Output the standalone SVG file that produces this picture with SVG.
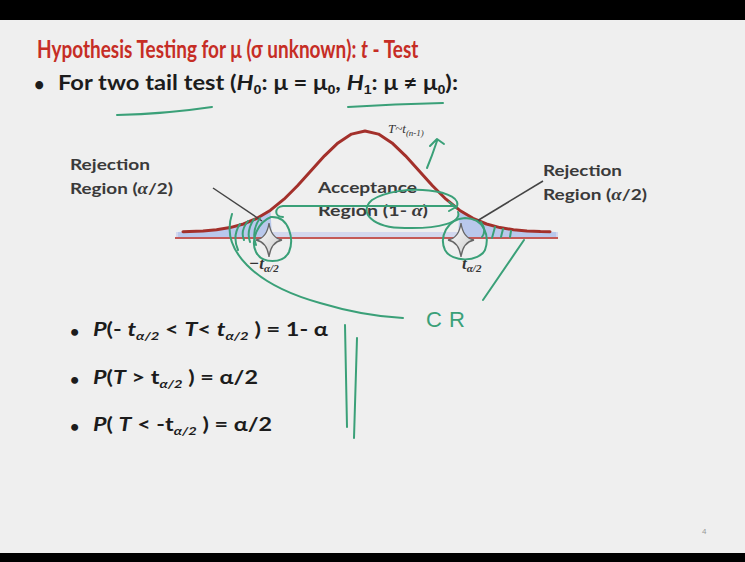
<svg xmlns="http://www.w3.org/2000/svg" width="745" height="562" viewBox="0 0 745 562">
<defs>
<style>
.title{font-family:Lato,"Liberation Sans",sans-serif;font-weight:bold;fill:#c62d25;font-size:25px}
.body{font-family:Lato,"Liberation Sans",sans-serif;font-weight:bold;fill:#1c1c1c}
.dig{font-family:"Liberation Sans",sans-serif}
.lbl{font-family:Lato,"Liberation Sans",sans-serif;font-weight:bold;fill:#3a3a3a;font-size:16px}
.ser{font-family:"Liberation Serif",serif;font-style:italic;fill:#333}
.it{font-style:italic}
.grn{fill:none;stroke:#3aa078;stroke-width:2;stroke-linecap:round;stroke-linejoin:round}
.star{stroke:#666;stroke-width:1.3}
.ptr{stroke:#444;stroke-width:1.5}
</style>
<linearGradient id="sg" x1="0" y1="0" x2="1" y2="1">
<stop offset="0" stop-color="#ffffff"/><stop offset="1" stop-color="#c8c8c8"/>
</linearGradient>
</defs>
<rect width="745" height="562" fill="#efefef"/>
<rect width="745" height="20" fill="#000"/>
<rect y="553" width="745" height="9" fill="#000"/>

<g id="title" transform="translate(37,58) scale(0.76,1)">
<text class="title" x="0" y="0">Hypothesis Testing for μ  (σ  unknown):  <tspan class="it">t</tspan> - Test</text>
</g>

<g id="line2">
<text class="body" x="34" y="91" font-size="18">•</text>
<text class="body" x="58" y="90" font-size="20" textLength="400" lengthAdjust="spacingAndGlyphs">For two tail test (<tspan class="it">H</tspan><tspan class="dig" font-size="12" dy="4">0</tspan><tspan dy="-4">: μ = μ</tspan><tspan class="dig" font-size="12" dy="4">0</tspan><tspan dy="-4">, </tspan><tspan class="it">H</tspan><tspan class="dig" font-size="12" dy="4">1</tspan><tspan dy="-4">: μ ≠ μ</tspan><tspan class="dig" font-size="12" dy="4">0</tspan><tspan dy="-4">):</tspan></text>
</g>

<g id="curve">
<rect x="176" y="232" width="382" height="5" fill="#d3d8ee"/>
<path d="M178 232 L183 231.7 L189.5 231.5 L203 230.9 L216.5 229.7 L230 227.6 L243.5 224 L257 218.3 L270.5 210.2 L272 238 L178 238 Z" fill="#b9c8ec"/>
<path d="M459.5 210.2 L473 218.3 L486.5 224 L500 227.6 L513.5 229.7 L527 230.9 L540.5 231.5 L550 231.7 L556 232 L556 238 L458 238 Z" fill="#b9c8ec"/>
<line x1="175" y1="238" x2="558" y2="238" stroke="#c45a58" stroke-width="2"/>
<path d="M183 231.7 L189.5 231.5 L203 230.9 L216.5 229.7 L230 227.6 L243.5 224 L257 218.3 L270.5 210.2 L284 199.2 L297.5 185.8 L311 170.7 L324.5 155.8 L338 142.9 L351.5 134.1 L365 131 L378.5 134.1 L392 142.9 L405.5 155.8 L419 170.7 L432.5 185.8 L446 199.2 L459.5 210.2 L473 218.3 L486.5 224 L500 227.6 L513.5 229.7 L527 230.9 L540.5 231.5 L550 231.7" fill="none" stroke="#a3302b" stroke-width="3" stroke-linejoin="round" stroke-linecap="round"/>
</g>

<g id="star-left"><path class="star" fill="url(#sg)" d="M269 223 Q271 238 282 240 Q271 242 269 257 Q267 242 256 240 Q267 238 269 223 Z"/></g>
<g id="star-right"><path class="star" fill="url(#sg)" d="M461 223 Q463 238 474 240 Q463 242 461 257 Q459 242 448 240 Q459 238 461 223 Z"/></g>

<g id="labels">
<text class="lbl" x="70" y="170" textLength="80" lengthAdjust="spacingAndGlyphs">Rejection</text>
<text class="lbl" x="70" y="194" textLength="103" lengthAdjust="spacingAndGlyphs">Region (<tspan font-family="Liberation Serif" font-style="italic">α</tspan>/2)</text>
<text class="lbl" x="543" y="176" textLength="79" lengthAdjust="spacingAndGlyphs">Rejection</text>
<text class="lbl" x="543" y="200" textLength="104" lengthAdjust="spacingAndGlyphs">Region (<tspan font-family="Liberation Serif" font-style="italic">α</tspan>/2)</text>
<text class="lbl" x="318" y="193" textLength="99" lengthAdjust="spacingAndGlyphs">Acceptance</text>
<text class="lbl" x="318" y="216" textLength="110" lengthAdjust="spacingAndGlyphs">Region (1- <tspan font-family="Liberation Serif" font-style="italic">α</tspan>)</text>
<text class="ser" x="388" y="133" font-size="13">T~t<tspan font-size="9" dy="3">(n-1)</tspan></text>
<text class="ser" x="249" y="269" font-size="17" font-weight="bold">−t<tspan font-size="11" dy="3">α/2</tspan></text>
<text class="ser" x="462" y="269" font-size="17" font-weight="bold">t<tspan font-size="11" dy="3">α/2</tspan></text>
</g>

<g id="connectors">
<line class="ptr" x1="213" y1="188" x2="262" y2="221"/>
<line class="ptr" x1="543" y1="181" x2="477" y2="221"/>
</g>

<g id="bullets">
<text class="body" x="70" y="337" font-size="16">•</text>
<text class="body" x="93" y="336" font-size="19" textLength="235" lengthAdjust="spacingAndGlyphs"><tspan class="it">P</tspan>(- <tspan class="it">t</tspan><tspan class="it" font-size="12" dy="4">α/2</tspan><tspan dy="-4"> &lt; </tspan><tspan class="it">T</tspan>&lt; <tspan class="it">t</tspan><tspan class="it" font-size="12" dy="4">α/2</tspan><tspan dy="-4"> ) = 1- α</tspan></text>
<text class="body" x="70" y="385" font-size="16">•</text>
<text class="body" x="93" y="384" font-size="19" textLength="165" lengthAdjust="spacingAndGlyphs"><tspan class="it">P</tspan>(<tspan class="it">T</tspan> &gt; t<tspan class="it" font-size="12" dy="4">α/2</tspan><tspan dy="-4"> ) = α/2</tspan></text>
<text class="body" x="70" y="432" font-size="16">•</text>
<text class="body" x="93" y="431" font-size="19" textLength="179" lengthAdjust="spacingAndGlyphs"><tspan class="it">P</tspan>( <tspan class="it">T</tspan> &lt; -t<tspan class="it" font-size="12" dy="4">α/2</tspan><tspan dy="-4"> ) = α/2</tspan></text>
</g>

<g id="ink">
<path class="grn" d="M117 115 Q165 114 212 107"/>
<path class="grn" d="M348 107 Q395 104 443 103"/>
<path class="grn" d="M427 168 Q432 156 437 141 M430 146 L437 139 L444 144"/>
<path class="grn" d="M283 217 C274 217 274 207 283 206 L455 206 M449 202 L456 207 L449 211"/>
<path class="grn" d="M456 208 C468 190 400 182 372 200 C358 212 372 228 405 228 C440 229 462 222 458 212"/>
<path class="grn" d="M271 217 C290 216 294 240 289 252 C283 264 262 264 256 252 C250 240 258 222 271 217 Z"/>
<path class="grn" d="M465 218 C484 218 490 236 485 250 C479 262 452 263 445 250 C439 237 447 219 465 218 Z"/>
<path class="grn" d="M232 214 C220 250 255 285 320 303 C350 312 380 317 403 318"/>
<path class="grn" d="M248 221 Q240 231 244 240 M254 219 Q246 231 250 242 M260 218 Q251 231 256 245 M240 224 Q232 236 238 250"/>
<path class="grn" d="M481 222 Q487 230 482 237 M492 238 L495 227 M501 237 L503 229 M510 237 L511 231"/>
<path class="grn" d="M483 300 L524 240"/>
<path class="grn" d="M345 325 L347 427 M357 338 L354 438"/>
<text x="426" y="327" font-family="'Liberation Sans',sans-serif" font-size="22" fill="#3aa078" letter-spacing="7">CR</text>
</g>

<text x="702" y="534" font-family="'Liberation Sans',sans-serif" font-size="8" fill="#999">4</text>
</svg>
